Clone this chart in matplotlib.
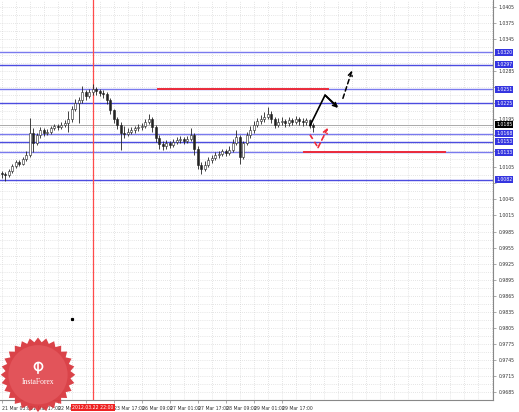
import matplotlib
matplotlib.use('Agg')
import matplotlib.pyplot as plt
import matplotlib.transforms as mtransforms
import numpy as np

# H-bars
first_open = 1.0095
closes = [1.0092, 1.0090, 1.0098, 1.0108, 1.0115, 1.0112, 1.0120, 1.0128, 1.0170, 1.0150,
          1.0165, 1.0175, 1.0170, 1.0172, 1.0178, 1.0182, 1.0180, 1.0185, 1.0188, 1.0195,
          1.0215, 1.0225, 1.0230, 1.0245, 1.0238, 1.0245, 1.0252, 1.0248, 1.0244, 1.0242,
          1.0230, 1.0212, 1.0195, 1.0185, 1.0170, 1.0168, 1.0172, 1.0175, 1.0178, 1.0180,
          1.0182, 1.0190, 1.0195, 1.0180, 1.0160, 1.0148, 1.0145, 1.0150, 1.0147, 1.0152,
          1.0156, 1.0158, 1.0155, 1.0158, 1.0165, 1.0140, 1.0110, 1.0102, 1.0110, 1.0118,
          1.0122, 1.0128, 1.0130, 1.0135, 1.0132, 1.0138, 1.0150, 1.0162, 1.0125, 1.0150,
          1.0165, 1.0175, 1.0185, 1.0192, 1.0195, 1.0200, 1.0205, 1.0195, 1.0185, 1.0190,
          1.0192, 1.0188, 1.0193, 1.0190, 1.0195, 1.0192, 1.0190, 1.0193, 1.0185, 1.0180]
highs = [1.0099, 1.0096, 1.0102, 1.0112, 1.0119, 1.0118, 1.0124, 1.0136, 1.0197, 1.0178,
         1.0170, 1.0180, 1.0179, 1.0177, 1.0182, 1.0186, 1.0186, 1.0190, 1.0194, 1.0210,
         1.0220, 1.0232, 1.0236, 1.0258, 1.0250, 1.0252, 1.0260, 1.0256, 1.0252, 1.0250,
         1.0246, 1.0234, 1.0215, 1.0200, 1.0190, 1.0182, 1.0178, 1.0180, 1.0183, 1.0186,
         1.0188, 1.0196, 1.0205, 1.0200, 1.0184, 1.0165, 1.0155, 1.0156, 1.0154, 1.0158,
         1.0161, 1.0163, 1.0162, 1.0164, 1.0178, 1.0170, 1.0144, 1.0115, 1.0116, 1.0124,
         1.0128, 1.0134, 1.0136, 1.0140, 1.0140, 1.0145, 1.0158, 1.0175, 1.0166, 1.0155,
         1.0172, 1.0182, 1.0192, 1.0198, 1.0202, 1.0208, 1.0218, 1.0210, 1.0200, 1.0198,
         1.0200, 1.0196, 1.0200, 1.0198, 1.0201, 1.0199, 1.0197, 1.0198, 1.0196, 1.0188]
lows = [1.0086, 1.0080, 1.0087, 1.0095, 1.0104, 1.0107, 1.0109, 1.0117, 1.0125, 1.0133,
        1.0146, 1.0160, 1.0164, 1.0166, 1.0168, 1.0174, 1.0175, 1.0176, 1.0180, 1.0172,
        1.0190, 1.0210, 1.0188, 1.0226, 1.0230, 1.0234, 1.0240, 1.0241, 1.0238, 1.0234,
        1.0224, 1.0205, 1.0188, 1.0176, 1.0138, 1.0160, 1.0163, 1.0168, 1.0170, 1.0173,
        1.0175, 1.0178, 1.0186, 1.0172, 1.0152, 1.0140, 1.0138, 1.0140, 1.0141, 1.0143,
        1.0148, 1.0151, 1.0149, 1.0151, 1.0154, 1.0128, 1.0102, 1.0092, 1.0098, 1.0106,
        1.0113, 1.0118, 1.0122, 1.0126, 1.0127, 1.0128, 1.0134, 1.0146, 1.0112, 1.0120,
        1.0146, 1.0160, 1.0170, 1.0180, 1.0186, 1.0190, 1.0195, 1.0188, 1.0178, 1.0180,
        1.0184, 1.0181, 1.0183, 1.0184, 1.0186, 1.0185, 1.0183, 1.0185, 1.0178, 1.0172]
opens = [first_open] + closes[:-1]

price_ticks = [1.0405, 1.0375, 1.0345, 1.0315, 1.0285, 1.0255, 1.0225, 1.0195, 1.0165,
               1.0135, 1.0105, 1.0075, 1.0045, 1.0015, 0.9985, 0.9955, 0.9925, 0.9895,
               0.9865, 0.9835, 0.9805, 0.9775, 0.9745, 0.9715, 0.9685]
date_ticks = [0, 8, 16, 24, 32, 40, 48, 56, 64, 72, 80]
date_labels = ['21 Mar 03:00', '21 Mar 17:00', '22 Mar 09:00', '23 Mar 01:00', '23 Mar 17:00',
               '26 Mar 09:00', '27 Mar 01:00', '27 Mar 17:00', '28 Mar 09:00', '29 Mar 01:00',
               '29 Mar 17:00']

blue_levels = [1.0320, 1.0297, 1.0251, 1.0225, 1.0168, 1.0153, 1.0133, 1.0082]
current_price = 1.0185
vline_bar = 26
vline_label = '2012.03.22 22:00'
red_lines = [(1.0251, 44.6, 93.2), (1.0133, 86.4, 126.6)]

# forecast arrows (bar, price)
black_path_x = [88.1, 92.4, 96.1]
black_path_y = [1.0183, 1.0240, 1.0216]
black_dash_x = [97.5, 100.1]
black_dash_y = [1.0234, 1.0286]
red_path_x = [88.1, 90.4, 93.2]
red_path_y = [1.0166, 1.0142, 1.0179]
dot_x, dot_y = 20.1, 0.9821

W, H = 519, 412
fig = plt.figure(figsize=(W / 100, H / 100), dpi=100)
fig.patch.set_facecolor('white')
ax = fig.add_axes([0, 12 / H, 493 / W, 400 / H])
ax.set_xlim(-0.5, 140.4)
ax.set_ylim(0.96831, 1.04179)

# grid
ax.set_yticks(price_ticks)
ax.set_xticks(date_ticks)
ax.set_yticks([p - 0.0015 for p in price_ticks], minor=True)
ax.set_xticks([d + 4 for d in date_ticks] + [88, 92, 96, 100, 104, 108, 112, 116, 120, 124,
                                             128, 132, 136, 140], minor=True)
ax.grid(True, which='both', color='#cccccc', linestyle=(0, (1, 2)), linewidth=0.5)
ax.set_axisbelow(True)

# tick labels hidden behind the level boxes
marked = blue_levels + [current_price]
ylabels = ['' if min(abs(p - m) for m in marked) < 0.0008 else '%.4f' % p for p in price_ticks]
xlabels = ['' if abs(t - vline_bar) < 4 else lab for t, lab in zip(date_ticks, date_labels)]

ax.yaxis.tick_right()
ax.set_yticklabels(ylabels, fontsize=3.3, color='#333333')
ax.set_xticklabels(xlabels, fontsize=3.3, color='#333333', ha='left')
ax.tick_params(which='major', length=2.5, width=0.5, color='#888888', pad=1.5)
ax.tick_params(which='minor', length=0)
for s in ['top', 'left']:
    ax.spines[s].set_visible(False)
for s in ['right', 'bottom']:
    ax.spines[s].set_color('#888888')
    ax.spines[s].set_linewidth(0.8)

# levels
yt = mtransforms.blended_transform_factory(ax.transAxes, ax.transData)
for i, lv in enumerate(blue_levels):
    col = '#7a7aee' if i % 2 == 0 else '#4c4ce0'
    ax.axhline(lv, color=col, linewidth=1.0, zorder=1)
    ax.text(1.006, lv, '%.4f' % lv, transform=yt, fontsize=3.3, color='white', va='center',
            ha='left', clip_on=False,
            bbox=dict(boxstyle='square,pad=0.25', fc='#3535e0', ec='none'), zorder=5)
ax.axhline(current_price, color='#aaaaaa', linewidth=0.7, zorder=1)
ax.text(1.006, current_price, '%.4f' % current_price, transform=yt, fontsize=3.3,
        color='white', va='center', ha='left', clip_on=False,
        bbox=dict(boxstyle='square,pad=0.25', fc='black', ec='none'), zorder=5)

ax.axvline(vline_bar, color='#ff4a4a', linewidth=0.9, zorder=1)
xt = mtransforms.blended_transform_factory(ax.transData, ax.transAxes)
ax.text(vline_bar, -0.012, vline_label, transform=xt, fontsize=3.3, color='white',
        ha='center', va='top', clip_on=False,
        bbox=dict(boxstyle='square,pad=0.25', fc='#ee2222', ec='none'), zorder=6)

for lv, x0, x1 in red_lines:
    ax.plot([x0, x1], [lv, lv], color='#ec2a3a', linewidth=1.4, zorder=3)

# candles
x = np.arange(len(closes))
o = np.array(opens)
c = np.array(closes)
ax.vlines(x, lows, highs, color='#222222', linewidth=0.6, zorder=3)
up = c >= o
body_lo = np.minimum(o, c)
body_h = np.maximum(np.abs(c - o), 0.00008)
ax.bar(x[up], body_h[up], bottom=body_lo[up], width=0.65, color='white',
       edgecolor='#222222', linewidth=0.4, zorder=4)
ax.bar(x[~up], body_h[~up], bottom=body_lo[~up], width=0.65, color='#222222',
       edgecolor='#222222', linewidth=0.4, zorder=4)

# forecast arrows
ax.plot(black_path_x[:-1] + [black_path_x[-1] - 0.4], black_path_y[:-1] + [black_path_y[-1] + 0.0004],
        color='black', linewidth=1.2, zorder=5)
ax.annotate('', xy=(black_path_x[-1], black_path_y[-1]),
            xytext=(black_path_x[-2], black_path_y[-2]),
            arrowprops=dict(arrowstyle='->', color='black', lw=1.2, mutation_scale=7,
                            shrinkA=14, shrinkB=0), zorder=5)
ax.annotate('', xy=(black_dash_x[1], black_dash_y[1]), xytext=(black_dash_x[0], black_dash_y[0]),
            arrowprops=dict(arrowstyle='->', color='black', lw=1.1, linestyle=(0, (3, 2)),
                            mutation_scale=7, shrinkA=0, shrinkB=0), zorder=5)
ax.plot(red_path_x[:2], red_path_y[:2], color='#ee2a3a', linewidth=1.2,
        linestyle=(0, (3, 2)), zorder=5)
ax.annotate('', xy=(red_path_x[2], red_path_y[2]), xytext=(red_path_x[1], red_path_y[1]),
            arrowprops=dict(arrowstyle='->', color='#ee2a3a', lw=1.2, linestyle=(0, (3, 2)),
                            mutation_scale=7, shrinkA=0, shrinkB=0), zorder=5)
ax.plot(dot_x, dot_y, marker='s', markersize=1.3, color='black', zorder=5)

# InstaForex logo
lax = fig.add_axes([0 / W, 0 / H, 76 / W, 76 / H])
lax.set_xlim(-1, 1)
lax.set_ylim(-1, 1)
lax.axis('off')
ang = np.linspace(0, 2 * np.pi, 57)
rad = np.where(np.arange(57) % 2 == 0, 0.98, 0.86)
lax.fill(rad * np.cos(ang), rad * np.sin(ang) - 0.02, color='#d8393f', alpha=0.95, lw=0)
circ = plt.Circle((0, -0.02), 0.78, color='#e2545a', lw=0)
lax.add_patch(circ)
lax.text(0, -0.2, 'InstaForex', color='white', fontsize=5.5, ha='center', va='center',
         family='Liberation Serif')
lax.plot([0], [0.22], marker='o', markersize=6, color='white')
lax.plot([0], [0.22], marker='o', markersize=3.5, color='#e2545a')
lax.plot([0, 0], [0.02, 0.28], color='white', lw=1.2)

fig.savefig('out.png', dpi=100, facecolor='white')
